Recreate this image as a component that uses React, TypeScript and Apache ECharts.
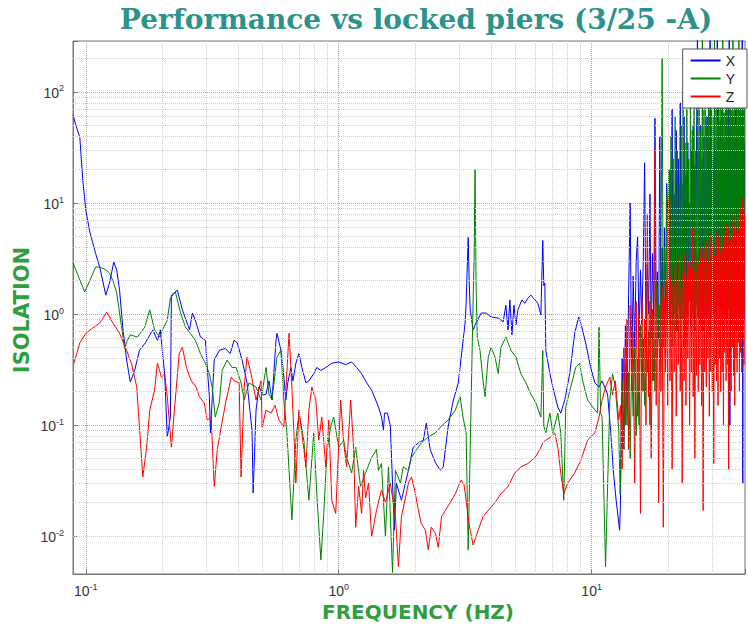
import React, { useEffect, useRef } from "react";
import * as echarts from "echarts";

// Low-frequency part of each transfer function: [frequency (Hz), isolation]
const xLow: [number, number][] = [
  [0.089, 62], [0.0914, 50], [0.0947, 39], [0.0973, 16], [0.1, 8.6], [0.1037, 5.5], [0.1094, 3.5],
  [0.1135, 2.65], [0.12, 1.48], [0.124, 1.9], [0.129, 2.94], [0.1325, 2.49], [0.136, 1.64], [0.14, 0.76],
  [0.145, 0.385], [0.15, 0.244], [0.156, 0.31], [0.163, 0.47], [0.172, 0.55], [0.184, 0.72], [0.192, 0.58],
  [0.197, 0.72], [0.205, 0.29], [0.21, 0.078], [0.216, 0.118], [0.218, 1.48], [0.23, 1.64], [0.241, 1.09],
  [0.257, 0.72], [0.264, 1.02], [0.271, 0.88], [0.284, 0.62], [0.297, 0.58], [0.308, 0.18], [0.311, 0.085],
  [0.322, 0.385], [0.337, 0.47], [0.356, 0.49], [0.372, 0.44], [0.386, 0.58], [0.397, 0.55], [0.415, 0.385],
  [0.434, 0.24], [0.454, 0.09], [0.459, 0.0244], [0.471, 0.136], [0.484, 0.22], [0.502, 0.186], [0.516, 0.19],
  [0.53, 0.25], [0.545, 0.168], [0.565, 0.58], [0.57, 0.67], [0.591, 0.47], [0.602, 0.33], [0.618, 0.168],
  [0.629, 0.24], [0.647, 0.33], [0.659, 0.25], [0.677, 0.36], [0.696, 0.44], [0.715, 0.33], [0.742, 0.24],
  [0.762, 0.25], [0.797, 0.29], [0.819, 0.33], [0.85, 0.31], [0.889, 0.33], [0.939, 0.36], [1.0, 0.37],
  [1.066, 0.35], [1.125, 0.37], [1.177, 0.33], [1.232, 0.29], [1.289, 0.24], [1.349, 0.207], [1.437, 0.145],
  [1.476, 0.118], [1.503, 0.09], [1.517, 0.128], [1.558, 0.128], [1.6, 0.098], [1.632, 0.03], [1.66, 0.0113],
  [1.69, 0.03], [1.77, 0.021], [1.835, 0.03], [1.886, 0.039], [1.97, 0.063], [2.065, 0.069], [2.16, 0.073],
  [2.22, 0.104], [2.3, 0.06], [2.41, 0.046], [2.52, 0.039], [2.59, 0.042], [2.64, 0.06], [2.71, 0.098],
  [2.84, 0.168], [2.97, 0.24], [3.05, 0.41], [3.16, 0.83], [3.19, 1.25], [3.25, 4.9], [3.28, 2.0],
  [3.31, 1.09], [3.4, 0.72], [3.49, 0.83], [3.66, 1.02], [3.83, 1.02], [4.0, 0.94], [4.27, 0.92],
  [4.47, 0.85], [4.58, 1.2], [4.67, 0.72], [4.75, 1.34], [4.84, 0.65], [4.93, 1.2], [5.02, 0.8],
  [5.11, 1.09], [5.3, 1.34], [5.44, 1.25], [5.6, 1.39], [5.75, 1.48], [5.97, 1.34], [6.13, 1.25],
  [6.3, 0.98], [6.41, 4.6], [6.47, 1.8], [6.53, 1.9], [6.59, 0.47], [6.84, 0.29], [7.02, 0.22],
  [7.35, 0.145], [7.55, 0.128], [7.83, 0.168], [8.19, 0.29], [8.57, 0.67], [8.89, 0.94], [9.06, 0.83],
  [9.47, 0.55], [9.91, 0.33], [10.3, 0.24], [10.7, 0.22], [11.0, 0.25], [11.56, 0.19], [11.9, 0.086],
  [12.2, 0.037], [12.5, 0.021], [12.9, 0.0113],
];

const yLow: [number, number][] = [
  [0.089, 2.9], [0.093, 2.25], [0.099, 1.58], [0.1037, 2.0], [0.1094, 2.65], [0.1135, 2.65], [0.12, 2.5],
  [0.124, 2.34], [0.128, 2.0], [0.1325, 1.55], [0.136, 1.02], [0.1425, 0.49], [0.146, 0.58], [0.15, 0.65],
  [0.16, 0.62], [0.171, 0.76], [0.179, 1.09], [0.187, 0.72], [0.196, 0.62], [0.201, 0.72], [0.21, 0.88],
  [0.216, 1.39], [0.226, 1.58], [0.237, 1.02], [0.248, 0.76], [0.259, 0.67], [0.271, 0.58], [0.284, 0.44],
  [0.297, 0.36], [0.308, 0.29], [0.316, 0.22], [0.325, 0.118], [0.337, 0.158], [0.346, 0.31], [0.362, 0.385],
  [0.379, 0.33], [0.393, 0.33], [0.411, 0.24], [0.423, 0.168], [0.442, 0.24], [0.471, 0.22], [0.493, 0.168],
  [0.516, 0.33], [0.53, 0.19], [0.545, 0.168], [0.57, 0.41], [0.591, 0.47], [0.607, 0.168], [0.624, 0.085],
  [0.653, 0.014], [0.677, 0.073], [0.696, 0.128], [0.728, 0.073], [0.762, 0.021], [0.797, 0.085],
  [0.819, 0.024], [0.85, 0.0061], [0.873, 0.016], [0.897, 0.056], [0.93, 0.098], [0.955, 0.118],
  [1.0, 0.063], [1.046, 0.073], [1.075, 0.051], [1.125, 0.037], [1.167, 0.063], [1.22, 0.028],
  [1.277, 0.037], [1.349, 0.051], [1.41, 0.06], [1.437, 0.039], [1.476, 0.045], [1.53, 0.0098],
  [1.573, 0.042], [1.632, 0.0047], [1.676, 0.039], [1.754, 0.03], [1.8, 0.042], [1.886, 0.039],
  [1.94, 0.051], [2.03, 0.06], [2.12, 0.069], [2.26, 0.078], [2.41, 0.085], [2.55, 0.098], [2.71, 0.111],
  [2.89, 0.136], [3.02, 0.18], [3.1, 0.118], [3.19, 0.085], [3.25, 0.0075], [3.31, 0.06], [3.4, 1.34],
  [3.43, 3.1], [3.46, 20], [3.49, 2.0], [3.53, 0.62], [3.62, 0.47], [3.72, 0.25], [3.79, 0.18],
  [3.9, 0.41], [4.0, 0.5], [4.15, 0.41], [4.27, 0.29], [4.38, 0.5], [4.58, 0.62], [4.8, 0.47],
  [5.02, 0.41], [5.25, 0.29], [5.5, 0.24], [5.75, 0.19], [6.02, 0.158], [6.3, 0.118], [6.41, 0.47],
  [6.47, 0.098], [6.59, 0.085], [6.84, 0.128], [7.02, 0.085], [7.35, 0.128], [7.55, 0.085], [7.76, 0.021],
  [7.9, 0.145], [8.27, 0.22], [8.65, 0.33], [8.97, 0.36], [9.22, 0.25], [9.64, 0.168], [10.1, 0.145],
  [10.56, 0.128], [10.7, 0.76], [10.85, 0.128], [11.0, 0.118], [11.35, 0.0053], [11.8, 0.168],
  [12.1, 0.29], [12.4, 0.22], [12.8, 0.09], [12.96, 0.024],
];

const zLow: [number, number][] = [
  [0.0897, 0.36], [0.0947, 0.55], [0.1, 0.67], [0.1066, 0.75], [0.1135, 0.83], [0.121, 1.04], [0.128, 0.83],
  [0.136, 0.67], [0.145, 0.47], [0.152, 0.35], [0.159, 0.22], [0.163, 0.096], [0.168, 0.034], [0.174, 0.063],
  [0.179, 0.136], [0.187, 0.207], [0.192, 0.36], [0.199, 0.27], [0.205, 0.29], [0.21, 0.18], [0.218, 0.063],
  [0.224, 0.136], [0.234, 0.44], [0.241, 0.5], [0.25, 0.33], [0.261, 0.25], [0.273, 0.22], [0.281, 0.18],
  [0.294, 0.158], [0.302, 0.111], [0.313, 0.118], [0.322, 0.028], [0.331, 0.06], [0.343, 0.096],
  [0.359, 0.168], [0.376, 0.27], [0.386, 0.25], [0.404, 0.24], [0.411, 0.034], [0.423, 0.22], [0.434, 0.41],
  [0.45, 0.29], [0.471, 0.168], [0.493, 0.25], [0.498, 0.096], [0.516, 0.136], [0.54, 0.128], [0.56, 0.151],
  [0.58, 0.111], [0.607, 0.096], [0.636, 0.67], [0.647, 0.33], [0.665, 0.085], [0.677, 0.03], [0.696, 0.136],
  [0.715, 0.085], [0.742, 0.042], [0.762, 0.136], [0.783, 0.22], [0.812, 0.168], [0.834, 0.073],
  [0.857, 0.118], [0.889, 0.042], [0.913, 0.111], [0.939, 0.021], [0.973, 0.016], [1.018, 0.168],
  [1.046, 0.069], [1.075, 0.042], [1.115, 0.168], [1.146, 0.06], [1.167, 0.012], [1.199, 0.028],
  [1.232, 0.016], [1.254, 0.039], [1.277, 0.022], [1.312, 0.03], [1.349, 0.0098], [1.41, 0.017],
  [1.476, 0.026], [1.53, 0.02], [1.6, 0.03], [1.676, 0.015], [1.722, 0.0053], [1.77, 0.015], [1.835, 0.022],
  [1.886, 0.03], [1.94, 0.034], [2.01, 0.024], [2.065, 0.017], [2.12, 0.013], [2.2, 0.0113], [2.26, 0.0075],
  [2.32, 0.012], [2.41, 0.0106], [2.475, 0.0079], [2.55, 0.015], [2.64, 0.017], [2.76, 0.02], [2.89, 0.024],
  [2.97, 0.028], [3.05, 0.032], [3.13, 0.029], [3.19, 0.021], [3.28, 0.0126], [3.4, 0.0083], [3.56, 0.0113],
  [3.72, 0.015], [3.9, 0.017], [4.15, 0.02], [4.38, 0.024], [4.67, 0.028], [4.97, 0.037], [5.25, 0.042],
  [5.6, 0.045], [5.97, 0.051], [6.24, 0.06], [6.41, 0.069], [6.59, 0.073], [6.9, 0.078], [7.15, 0.085],
  [7.35, 0.063], [7.55, 0.037], [7.76, 0.024], [8.04, 0.03], [8.57, 0.037], [9.06, 0.048], [9.64, 0.073],
  [10.3, 0.085], [10.7, 0.118], [11.0, 0.168], [11.35, 0.22], [11.8, 0.27], [12.1, 0.186], [12.4, 0.25],
  [12.8, 0.111],
];

// High-frequency part: common frequency bins (13.0 to 40.2 Hz, 0.2 Hz apart)
const hfFreq: number[] = [
  13.0, 13.2, 13.4, 13.6, 13.8, 14.0, 14.2, 14.4, 14.6, 14.8,
  15.0, 15.2, 15.4, 15.6, 15.8, 16.0, 16.2, 16.4, 16.6, 16.8,
  17.0, 17.2, 17.4, 17.6, 17.8, 18.0, 18.2, 18.4, 18.6, 18.8,
  19.0, 19.2, 19.4, 19.6, 19.8, 20.0, 20.2, 20.4, 20.6, 20.8,
  21.0, 21.2, 21.4, 21.6, 21.8, 22.0, 22.2, 22.4, 22.6, 22.8,
  23.0, 23.2, 23.4, 23.6, 23.8, 24.0, 24.2, 24.4, 24.6, 24.8,
  25.0, 25.2, 25.4, 25.6, 25.8, 26.0, 26.2, 26.4, 26.6, 26.8,
  27.0, 27.2, 27.4, 27.6, 27.8, 28.0, 28.2, 28.4, 28.6, 28.8,
  29.0, 29.2, 29.4, 29.6, 29.8, 30.0, 30.2, 30.4, 30.6, 30.8,
  31.0, 31.2, 31.4, 31.6, 31.8, 32.0, 32.2, 32.4, 32.6, 32.8,
  33.0, 33.2, 33.4, 33.6, 33.8, 34.0, 34.2, 34.4, 34.6, 34.8,
  35.0, 35.2, 35.4, 35.6, 35.8, 36.0, 36.2, 36.4, 36.6, 36.8,
  37.0, 37.2, 37.4, 37.6, 37.8, 38.0, 38.2, 38.4, 38.6, 38.8,
  39.0, 39.2, 39.4, 39.6, 39.8, 40.0, 40.2,
];

const xHigh: number[] = [
  0.02, 0.4, 0.06, 0.8, 0.15, 1.5, 10, 0.3, 2.2, 0.5,
  3, 5, 0.6, 2.5, 0.8, 3, 23, 0.7, 2.8, 1.0,
  12, 0.6, 3.5, 0.9, 58, 1.2, 2.4, 0.6, 40, 0.8,
  4, 0.7, 6, 1.0, 15, 8, 0.9, 20, 1.2, 70,
  0.8, 12, 1.5, 45, 0.7, 25, 1.1, 80, 0.9, 15,
  1.3, 60, 0.6, 18, 1.0, 35, 1.4, 10, 0.8, 30,
  1.2, 50, 0.9, 22, 1.1, 40, 300, 1.0, 30, 0.8,
  50, 1.2, 25, 0.7, 40, 1.5, 20, 0.9, 60, 1.1,
  35, 0.8, 300, 1.3, 45, 0.6, 25, 1.0, 70, 1.4,
  30, 0.9, 300, 1.2, 40, 0.7, 55, 1.1, 28, 0.8,
  65, 1.3, 35, 0.9, 50, 1.0, 30, 0.6, 80, 1.2,
  300, 0.1, 45, 0.8, 25, 1.4, 60, 0.9, 35, 1.1,
  90, 0.7, 40, 1.3, 55, 0.8, 30, 1.0, 70, 0.6,
  45, 1.2, 300, 0.03, 50, 0.9, 35,
];

const yHigh: number[] = [
  0.03, 0.25, 0.06, 0.35, 0.1, 0.3, 0.05, 0.4, 0.12, 0.5,
  0.08, 0.4, 0.1, 0.8, 0.2, 0.6, 0.15, 1.2, 0.3, 0.7,
  0.1, 1.5, 0.25, 0.9, 0.2, 2, 0.4, 1.2, 0.3, 3,
  200, 0.5, 4, 0.4, 12, 0.6, 20, 0.8, 40, 0.5,
  25, 1.0, 60, 0.7, 30, 1.2, 15, 0.6, 50, 0.9,
  100, 0.5, 35, 1.1, 70, 0.8, 25, 1.3, 120, 0.6,
  45, 1.0, 80, 0.7, 30, 1.2, 60, 0.9, 150, 1.5,
  45, 0.7, 300, 1.8, 70, 0.8, 110, 1.2, 50, 2,
  200, 0.6, 80, 1.4, 130, 0.9, 60, 1.6, 300, 0.8,
  90, 1.3, 55, 2.2, 170, 0.7, 75, 1.5, 120, 1.0,
  300, 0.6, 65, 1.8, 140, 0.9, 85, 2, 45, 1.1,
  100, 0.5, 220, 1.4, 70, 0.8, 300, 1.7, 95, 1.0,
  50, 2.4, 160, 0.7, 80, 1.2, 300, 0.9, 110, 1.5,
  65, 0.6, 90, 2, 190, 1.1, 120,
];

const zHigh: number[] = [
  0.15, 0.04, 0.5, 0.1, 0.9, 0.06, 1.2, 0.2, 0.7, 0.03,
  1.3, 0.12, 1.0, 0.016, 1.4, 0.2, 0.9, 0.1, 8, 0.18,
  1.3, 0.05, 1.1, 0.25, 30, 0.15, 1.5, 0.02, 1.2, 0.2,
  1.8, 0.012, 1.4, 0.3, 2, 0.15, 11, 0.25, 2.2, 0.04,
  1.8, 0.3, 2.8, 0.12, 2.0, 0.35, 3.2, 0.2, 1.7, 0.03,
  2.5, 0.25, 3.5, 0.15, 2.2, 0.4, 3, 0.1, 2.6, 0.3,
  6, 0.18, 2.4, 0.05, 3.3, 0.28, 3.5, 0.2, 2.8, 0.35,
  4, 0.15, 3.2, 0.017, 3.8, 0.3, 2.6, 0.22, 4.5, 0.4,
  3, 0.12, 5, 0.3, 3.6, 0.2, 4.2, 0.045, 3.4, 0.35,
  5.5, 0.25, 3.8, 0.15, 4.8, 0.4, 3.5, 0.2, 6, 0.3,
  4, 0.1, 5.2, 0.45, 3.9, 0.25, 6.5, 0.35, 4.4, 0.04,
  5.8, 0.3, 4.6, 0.2, 7, 0.5, 5, 0.28, 6.2, 0.15,
  8, 0.4, 5.5, 0.3, 7.5, 0.55, 6, 0.2, 9, 0.45,
  6.5, 0.3, 11, 0.6, 7, 0.35, 8,
];

// Grid positions between the decades
const minorX: number[] = [0.2, 0.3, 0.4, 0.5, 0.6, 0.7, 0.8, 0.9, 2, 3, 4, 5, 6, 7, 8, 9, 20, 30];
const minorY: number[] = [
  0.005, 0.006, 0.007, 0.008, 0.009, 0.02, 0.03, 0.04, 0.05, 0.06, 0.07, 0.08, 0.09, 0.2, 0.3, 0.4, 0.5,
  0.6, 0.7, 0.8, 0.9, 2, 3, 4, 5, 6, 7, 8, 9, 20, 30, 40, 50, 60, 70, 80, 90, 200,
];

const seriesNames = ["X", "Y", "Z"];
const seriesColors = ["#0000ff", "#008000", "#ff0000"];

const withHigh = (low: [number, number][], high: number[]): [number, number][] =>
  low.concat(hfFreq.map((f, i) => [f, high[i]] as [number, number]));

const powerLabel = (v: number): string => {
  const e = Math.log10(v);
  const r = Math.round(e);
  if (Math.abs(e - r) > 1e-6) return "";
  return `{b|10}{s|${r}}`;
};

const labelRich = {
  b: { fontSize: 14, color: "#333", fontFamily: "Liberation Sans", lineHeight: 16, verticalAlign: "bottom" },
  s: { fontSize: 9, color: "#333", fontFamily: "Liberation Sans", lineHeight: 16, verticalAlign: "top" },
};

export default function App() {
  const ref = useRef<HTMLDivElement>(null);

  useEffect(() => {
    if (!ref.current) return;
    const chart = echarts.init(ref.current, null, { renderer: "svg" });
    const data = [withHigh(xLow, xHigh), withHigh(yLow, yHigh), withHigh(zLow, zHigh)];

    chart.setOption({
      animation: false,
      backgroundColor: "#ffffff",
      title: {
        text: "Performance vs locked piers (3/25 -A)",
        left: 411,
        top: 0,
        textAlign: "center",
        textStyle: {
          fontFamily: "DejaVu Serif",
          fontWeight: "bold",
          fontSize: 28,
          color: "#2b938b",
        },
      },
      grid: {
        left: 73,
        right: 1,
        top: 41,
        bottom: 51,
        show: true,
        borderColor: "#777",
        borderWidth: 1,
        backgroundColor: "transparent",
      },
      legend: {
        data: seriesNames,
        orient: "vertical",
        right: 1,
        top: 49,
        z: 20,
        icon: "rect",
        itemWidth: 30,
        itemHeight: 2,
        itemGap: 3,
        padding: [4, 12, 4, 8],
        backgroundColor: "#ffffff",
        borderColor: "#555",
        borderWidth: 1,
        textStyle: { fontFamily: "Liberation Sans", fontSize: 14, lineHeight: 15, color: "#222" },
      },
      xAxis: {
        type: "log",
        logBase: 10,
        min: 0.089,
        max: 40.4,
        axisLine: { show: true, lineStyle: { color: "#777" } },
        axisTick: { show: true, inside: true, length: 5, lineStyle: { color: "#777" } },
        axisLabel: { formatter: powerLabel, rich: labelRich, margin: 8 },
        splitLine: { show: true, lineStyle: { type: "dotted", color: "#a8a8a8", width: 1 } },
      },
      yAxis: {
        type: "log",
        logBase: 10,
        min: 0.00455,
        max: 288,
        axisLine: { show: true, lineStyle: { color: "#777" } },
        axisTick: { show: true, inside: true, length: 5, lineStyle: { color: "#777" } },
        axisLabel: { formatter: powerLabel, rich: labelRich, margin: 9 },
        splitLine: { show: true, lineStyle: { type: "dotted", color: "#a8a8a8", width: 1 } },
      },
      graphic: [
        {
          type: "text",
          x: 22,
          y: 310,
          rotation: Math.PI / 2,
          style: {
            text: "ISOLATION",
            fontFamily: "DejaVu Sans",
            fontWeight: 900,
            fontSize: 21,
            fill: "#2f9e3f",
            align: "center",
            verticalAlign: "middle",
          },
        },
        {
          type: "text",
          x: 418,
          y: 612,
          style: {
            text: "FREQUENCY (HZ)",
            fontFamily: "DejaVu Sans",
            fontWeight: 900,
            fontSize: 20,
            fill: "#2f9e3f",
            align: "center",
            verticalAlign: "middle",
          },
        },
      ],
      series: [
        {
          name: "gridMinor",
          type: "line",
          data: [],
          silent: true,
          z: 1,
          markLine: {
            silent: true,
            symbol: ["none", "none"],
            label: { show: false },
            lineStyle: { type: "dotted", color: "#cfcfcf", width: 1 },
            data: [
              ...minorX.map((v) => ({ xAxis: v })),
              ...minorY.map((v) => ({ yAxis: v })),
            ],
          },
        },
        ...seriesNames.map((name, i) => ({
          name,
          type: "line",
          data: data[i],
          symbol: "none",
          showSymbol: false,
          z: 2,
          lineStyle: { color: seriesColors[i], width: 1 },
          itemStyle: { color: seriesColors[i] },
        })),
      ],
    });

    return () => chart.dispose();
  }, []);

  return (
    <div
      ref={ref}
      style={{ position: "fixed", left: 0, top: 0, width: 748, height: 625, background: "#fff" }}
    />
  );
}
